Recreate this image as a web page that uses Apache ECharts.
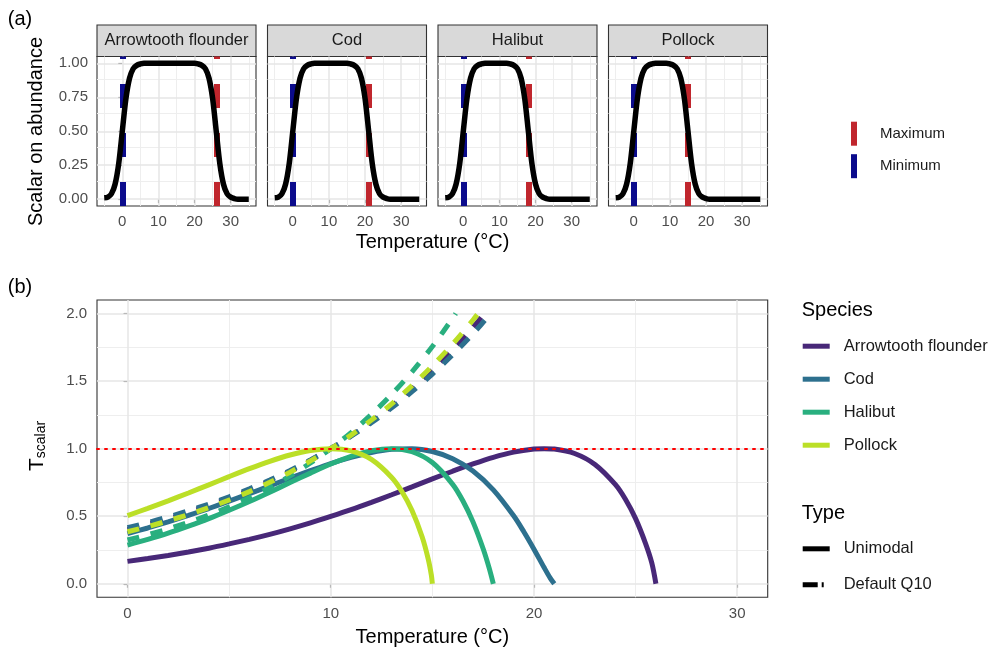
<!DOCTYPE html>
<html>
<head>
<meta charset="utf-8">
<title>Temperature scalars</title>
<script src="https://cdn.jsdelivr.net/npm/echarts@6/dist/echarts.min.js"></script>
<style>
    html, body { margin: 0; padding: 0; background: #fff; }
    #chart { width: 992px; height: 653px; }
</style>
</head>
<body>
<div id="chart"></div>
<script>
var species = ['Arrowtooth flounder', 'Cod', 'Halibut', 'Pollock'];
var speciesColors = ['#482878', '#2D708E', '#29AF7F', '#BBDF27'];
var minTemp = [0, 0, 0, 0];
var maxTemp = [26, 21, 18, 15];

// panel (a): scalar on abundance
var tempA = [-5, -4, -3, -2, -1, 0, 1, 2, 3, 4, 5, 6, 7, 8, 9, 10, 11, 12, 13, 14, 15, 16, 17, 18, 19, 20,
    21, 22, 23, 24, 25, 26, 27, 28, 29, 30, 31, 32, 33, 34, 35];
var abundAtf = [0.01, 0.015, 0.04, 0.11, 0.26, 0.5, 0.74, 0.89, 0.96, 0.985, 0.995,
    1, 1, 1, 1, 1, 1, 1, 1, 1, 1, 1, 1, 1, 1, 1,
    0.995, 0.985, 0.96, 0.89, 0.74, 0.5, 0.26, 0.11, 0.04, 0.015, 0.005,
    0, 0, 0, 0];
var abundCod = [0.01, 0.015, 0.04, 0.11, 0.26, 0.5, 0.74, 0.89, 0.96, 0.985, 0.995,
    1, 1, 1, 1, 1, 1, 1, 1, 1, 1,
    0.995, 0.985, 0.96, 0.89, 0.74, 0.5, 0.26, 0.11, 0.04, 0.015, 0.005,
    0, 0, 0, 0, 0, 0, 0, 0, 0];
var abundHalibut = [0.01, 0.015, 0.04, 0.11, 0.26, 0.5, 0.74, 0.89, 0.96, 0.985, 0.995,
    1, 1, 1, 1, 1, 1, 1,
    0.995, 0.985, 0.96, 0.89, 0.74, 0.5, 0.26, 0.11, 0.04, 0.015, 0.005,
    0, 0, 0, 0, 0, 0, 0, 0, 0, 0, 0, 0];
var abundPollock = [0.01, 0.015, 0.04, 0.11, 0.26, 0.5, 0.74, 0.89, 0.96, 0.985, 0.995,
    1, 1, 1, 1,
    0.995, 0.985, 0.96, 0.89, 0.74, 0.5, 0.26, 0.11, 0.04, 0.015, 0.005,
    0, 0, 0, 0, 0, 0, 0, 0, 0, 0, 0, 0, 0, 0, 0];
var abund = [abundAtf, abundCod, abundHalibut, abundPollock];

// panel (b): unimodal curves
var tempAtfUni = [0, 1, 2, 3, 4, 5, 6, 7, 8, 9, 10, 11, 12, 13, 14, 15, 16, 17, 18, 19, 20, 20.5, 21, 22, 23, 24,
    24.5, 25, 25.5, 25.8, 26];
var scalarAtfUni = [0.166, 0.187, 0.210, 0.235, 0.263, 0.295, 0.329, 0.366, 0.407, 0.451, 0.499, 0.549, 0.603,
    0.659, 0.717, 0.776, 0.833, 0.887, 0.936, 0.974, 0.997, 1.0, 0.997, 0.964, 0.883, 0.735,
    0.625, 0.482, 0.294, 0.153, 0];
var tempCodUni = [0, 1, 2, 3, 4, 5, 6, 7, 8, 9, 10, 11, 12, 13, 14, 15, 16, 17, 18, 19, 19.5, 20, 20.5, 20.8, 21];
var scalarCodUni = [0.371, 0.413, 0.458, 0.506, 0.557, 0.611, 0.667, 0.724, 0.782, 0.837, 0.890, 0.935, 0.972,
    0.995, 0.999, 0.979, 0.926, 0.835, 0.695, 0.503, 0.385, 0.256, 0.120, 0.042, 0];
var tempHalibutUni = [0, 1, 2, 3, 4, 5, 6, 7, 8, 9, 10, 11, 12, 13, 14, 15, 16, 16.5, 17, 17.5, 17.8, 18];
var scalarHalibutUni = [0.286, 0.328, 0.374, 0.426, 0.482, 0.544, 0.609, 0.678, 0.749, 0.819, 0.886, 0.943,
    0.984, 1.0, 0.977, 0.897, 0.736, 0.614, 0.458, 0.259, 0.114, 0];
var tempPollockUni = [0, 1, 2, 3, 4, 5, 6, 7, 8, 9, 10, 11, 12, 13, 13.5, 14, 14.5, 14.8, 14.95, 15];
var scalarPollockUni = [0.505, 0.558, 0.614, 0.672, 0.732, 0.793, 0.852, 0.906, 0.953, 0.987, 1.0, 0.983,
    0.920, 0.787, 0.683, 0.542, 0.346, 0.181, 0.065, 0];

// panel (b): default Q10 curves (cut at 2.0)
var tempAtfQ10 = [0, 1, 2, 3, 4, 5, 6, 7, 8, 9, 10, 11, 12, 13, 14, 15, 16, 17, 17.57];
var scalarAtfQ10 = [0.401, 0.439, 0.481, 0.527, 0.578, 0.633, 0.694, 0.760, 0.833, 0.913, 1.0, 1.096, 1.201,
    1.316, 1.442, 1.580, 1.732, 1.898, 2.0];
var tempCodQ10 = [0, 1, 2, 3, 4, 5, 6, 7, 8, 9, 10, 11, 12, 13, 14, 15, 16, 17, 17.88];
var scalarCodQ10 = [0.415, 0.453, 0.495, 0.540, 0.590, 0.644, 0.703, 0.768, 0.839, 0.916, 1.0, 1.092, 1.192,
    1.302, 1.422, 1.552, 1.695, 1.851, 2.0];
var tempHalibutQ10 = [0, 1, 2, 3, 4, 5, 6, 7, 8, 9, 10, 11, 12, 13, 14, 15, 16, 16.15];
var scalarHalibutQ10 = [0.324, 0.363, 0.406, 0.455, 0.509, 0.569, 0.637, 0.713, 0.798, 0.894, 1.0, 1.119,
    1.253, 1.402, 1.569, 1.756, 1.965, 2.0];
var tempPollockQ10 = [0, 1, 2, 3, 4, 5, 6, 7, 8, 9, 10, 11, 12, 13, 14, 15, 16, 17, 17.25];
var scalarPollockQ10 = [0.385, 0.423, 0.466, 0.512, 0.564, 0.620, 0.682, 0.751, 0.826, 0.909, 1.0, 1.100,
    1.211, 1.332, 1.466, 1.613, 1.774, 1.952, 2.0];

var uniTemps = [tempAtfUni, tempCodUni, tempHalibutUni, tempPollockUni];
var uniValues = [scalarAtfUni, scalarCodUni, scalarHalibutUni, scalarPollockUni];
var q10Temps = [tempAtfQ10, tempCodQ10, tempHalibutQ10, tempPollockQ10];
var q10Values = [scalarAtfQ10, scalarCodQ10, scalarHalibutQ10, scalarPollockQ10];

// ticks and grid lines
var ticksXA = [0, 10, 20, 30];
var minorXA = [-5, 5, 15, 25, 35];
var ticksYA = [0, 0.25, 0.5, 0.75, 1];
var minorYA = [0.125, 0.375, 0.625, 0.875];
var ticksXB = [0, 10, 20, 30];
var minorXB = [5, 15, 25];
var ticksYB = [0, 0.5, 1, 1.5, 2];
var minorYB = [0.25, 0.75, 1.25, 1.75];
var refLine = 1;

var FONT = 'Liberation Sans, Arial, Helvetica, sans-serif';
var facetLeft = [97, 267.5, 438, 608.5];
var facetW = 159;
var stripTop = 25, stripH = 31.5, panelTop = 56.5, panelH = 149.5;

function pairs(xs, ys) {
    return xs.map(function (x, i) { return [x, ys[i]]; });
}

function gridMarks(xMajor, xMinor, yMajor, yMinor) {
    var out = [];
    var major = {color: '#E6E6E6', width: 1.5, type: 'solid'};
    var minor = {color: '#EEEEEE', width: 1, type: 'solid'};
    xMinor.forEach(function (v) { out.push({xAxis: v, lineStyle: minor}); });
    yMinor.forEach(function (v) { out.push({yAxis: v, lineStyle: minor}); });
    xMajor.forEach(function (v) { out.push({xAxis: v, lineStyle: major}); });
    yMajor.forEach(function (v) { out.push({yAxis: v, lineStyle: major}); });
    return out;
}

function gridSeries(idx, marks) {
    return {
        type: 'line', name: 'grid' + idx, xAxisIndex: idx, yAxisIndex: idx, data: [], silent: true,
        markLine: {silent: true, symbol: 'none', z: 1, animation: false, label: {show: false}, data: marks}
    };
}

var labelStyle = {color: '#4D4D4D', fontSize: 15, fontFamily: FONT};
var tickStyle = {length: 4, lineStyle: {color: '#333333', width: 1.1}};

var grids = [], xAxes = [], yAxes = [], series = [], graphics = [];

// ---- panel (a)
for (var i = 0; i < 4; i++) {
    grids.push({
        left: facetLeft[i], top: panelTop, width: facetW, height: panelH,
        show: true, backgroundColor: '#fff', borderColor: '#333333', borderWidth: 1.1
    });
    xAxes.push({
        gridIndex: i, type: 'value', min: -7, max: 37,
        axisLine: {show: false}, splitLine: {show: false},
        axisTick: Object.assign({show: true, customValues: ticksXA}, tickStyle),
        axisLabel: Object.assign({customValues: ticksXA, margin: 8}, labelStyle)
    });
    yAxes.push({
        gridIndex: i, type: 'value', min: -0.05, max: 1.05,
        axisLine: {show: false}, splitLine: {show: false},
        axisTick: Object.assign({show: i === 0, customValues: ticksYA}, tickStyle),
        axisLabel: Object.assign({show: i === 0, customValues: ticksYA, margin: 9,
            formatter: function (v) { return v.toFixed(2); }}, labelStyle)
    });
    series.push(gridSeries(i, gridMarks(ticksXA, minorXA, ticksYA, minorYA)));
    series.push({
        type: 'line', name: 'Maximum', xAxisIndex: i, yAxisIndex: i, data: [], color: '#C0262D',
        markLine: {silent: true, symbol: 'none', z: 2, animation: false, label: {show: false},
            lineStyle: {color: '#C0262D', width: 6, type: [24, 25], cap: 'butt'},
            data: [{xAxis: maxTemp[i]}]}
    });
    series.push({
        type: 'line', name: 'Minimum', xAxisIndex: i, yAxisIndex: i, data: [], color: '#0B0B8C',
        markLine: {silent: true, symbol: 'none', z: 2, animation: false, label: {show: false},
            lineStyle: {color: '#0B0B8C', width: 6, type: [24, 25], cap: 'butt'},
            data: [{xAxis: minTemp[i]}]}
    });
    series.push({
        type: 'line', name: 'abundance ' + species[i], xAxisIndex: i, yAxisIndex: i,
        data: pairs(tempA, abund[i]), smooth: 0.3, symbol: 'none', z: 3,
        lineStyle: {color: '#000', width: 5.5}
    });

    graphics.push({
        type: 'rect', shape: {x: facetLeft[i], y: stripTop, width: facetW, height: stripH},
        style: {fill: '#D9D9D9', stroke: '#333333', lineWidth: 1.1}
    });
    graphics.push({
        type: 'text', x: facetLeft[i] + facetW / 2, y: stripTop + stripH / 2,
        style: {text: species[i], fill: '#1A1A1A', fontSize: 16.5, fontFamily: FONT,
            align: 'center', verticalAlign: 'middle'}
    });
}

// ---- panel (b)
var b = 4;
grids.push({
    left: 97, top: 300, width: 670.7, height: 297.3,
    show: true, backgroundColor: '#fff', borderColor: '#333333', borderWidth: 1.1
});
xAxes.push({
    gridIndex: b, type: 'value', min: -1.5, max: 31.5,
    axisLine: {show: false}, splitLine: {show: false},
    axisTick: Object.assign({show: true, customValues: ticksXB}, tickStyle),
    axisLabel: Object.assign({customValues: ticksXB, margin: 9}, labelStyle)
});
yAxes.push({
    gridIndex: b, type: 'value', min: -0.1, max: 2.1,
    axisLine: {show: false}, splitLine: {show: false},
    axisTick: Object.assign({show: true, customValues: ticksYB}, tickStyle),
    axisLabel: Object.assign({customValues: ticksYB, margin: 10,
        formatter: function (v) { return v.toFixed(1); }}, labelStyle)
});
series.push(gridSeries(b, gridMarks(ticksXB, minorXB, ticksYB, minorYB)));

species.forEach(function (name, k) {
    series.push({
        type: 'line', name: name, xAxisIndex: b, yAxisIndex: b, color: speciesColors[k],
        data: pairs(uniTemps[k], uniValues[k]), smooth: 0.3, symbol: 'none', z: 3,
        lineStyle: {color: speciesColors[k], width: 5, cap: 'butt'}
    });
    series.push({
        type: 'line', name: name, xAxisIndex: b, yAxisIndex: b, color: speciesColors[k],
        data: pairs(q10Temps[k], q10Values[k]), smooth: 0.3, symbol: 'none', z: 3,
        lineStyle: {color: speciesColors[k], width: 5, type: [12, 12], cap: 'butt'}
    });
});

// reference line at 1
series.push({
    type: 'line', name: 'ref', xAxisIndex: b, yAxisIndex: b, data: [],
    markLine: {silent: true, symbol: 'none', z: 10, animation: false, label: {show: false},
        lineStyle: {color: '#FF0000', width: 2, type: [2, 6], cap: 'round'},
        data: [{yAxis: refLine}]}
});

// series only used for the "Type" legend
series.push({type: 'line', name: 'Unimodal', xAxisIndex: b, yAxisIndex: b, data: [], color: '#000'});
series.push({type: 'line', name: 'Default Q10', xAxisIndex: b, yAxisIndex: b, data: [], color: '#000'});

// ---- titles and labels
function label(text, x, y, size, extra) {
    return Object.assign({
        type: 'text', x: x, y: y,
        style: {text: text, fill: '#000', fontSize: size, fontFamily: FONT, align: 'center', verticalAlign: 'middle'}
    }, extra || {});
}

graphics.push(label('(a)', 20, 19, 20));
graphics.push(label('(b)', 20, 287.5, 20));
graphics.push(label('Temperature (°C)', 432.5, 242.7, 20));
graphics.push(label('Temperature (°C)', 432.3, 637.7, 20));
graphics.push(label('Scalar on abundance', 36, 131.5, 20, {rotation: Math.PI / 2}));
graphics.push({
    type: 'text', x: 36, y: 446, rotation: Math.PI / 2,
    style: {
        text: '{t|T}{s|scalar}', align: 'center', verticalAlign: 'middle', fill: '#000',
        rich: {
            t: {fontSize: 21, fontFamily: FONT, lineHeight: 24, verticalAlign: 'bottom', fill: '#000'},
            s: {fontSize: 14, fontFamily: FONT, lineHeight: 8, verticalAlign: 'bottom', fill: '#000'}
        }
    }
});
graphics.push(label('Species', 801.7, 310, 20, {}));
graphics[graphics.length - 1].style.align = 'left';
graphics.push(label('Type', 801.7, 513.3, 20, {}));
graphics[graphics.length - 1].style.align = 'left';

var legendText = {color: '#1A1A1A', fontFamily: FONT};

var option = {
    animation: false,
    backgroundColor: '#fff',
    textStyle: {fontFamily: FONT},
    grid: grids,
    xAxis: xAxes,
    yAxis: yAxes,
    legend: [
        {
            data: ['Maximum', 'Minimum'], orient: 'vertical', left: 851, top: 121.7, padding: 0,
            icon: 'rect', itemWidth: 6, itemHeight: 24, itemGap: 8.5, selectedMode: false,
            itemStyle: {borderWidth: 0},
            textStyle: Object.assign({fontSize: 15, padding: [0, 0, 0, 18]}, legendText)
        },
        {
            data: species, orient: 'vertical', left: 802.7, top: 337.7, padding: 0,
            icon: 'rect', itemWidth: 27, itemHeight: 5, itemGap: 16, selectedMode: false,
            itemStyle: {borderWidth: 0},
            textStyle: Object.assign({fontSize: 16.5, lineHeight: 16, padding: [0, 0, 0, 9]}, legendText)
        },
        {
            data: [
                {name: 'Unimodal', icon: 'rect'},
                {name: 'Default Q10', icon: 'path://M0,0H15V5H0Z M19,0H21V5H19Z M27,5L27,5Z'}
            ],
            orient: 'vertical', left: 802.7, top: 540.3, padding: 0,
            itemWidth: 27, itemHeight: 5, itemGap: 19, selectedMode: false,
            itemStyle: {borderWidth: 0},
            textStyle: Object.assign({fontSize: 16.5, lineHeight: 16, padding: [0, 0, 0, 9]}, legendText)
        }
    ],
    graphic: graphics,
    series: series
};

var myChart = echarts.init(document.getElementById('chart'));
myChart.setOption(option);
</script>
</body>
</html>
